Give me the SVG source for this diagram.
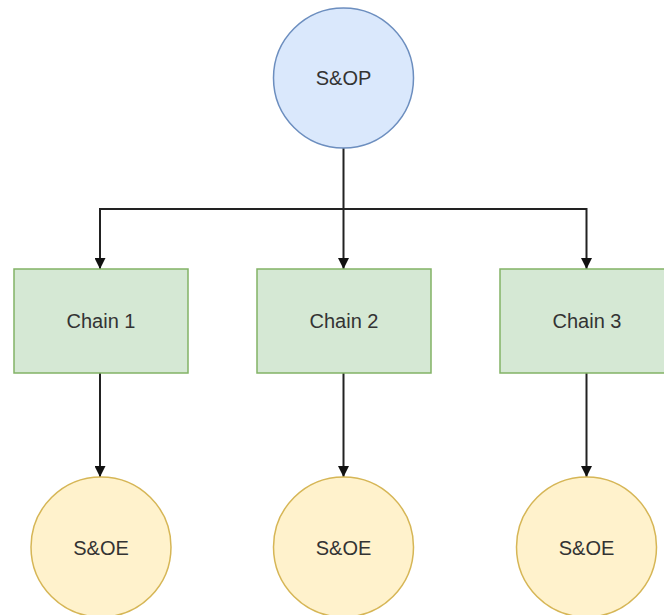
<svg xmlns="http://www.w3.org/2000/svg" width="664" height="615" viewBox="0 0 664 615">
<style>
text{font-family:"Liberation Sans",Arial,sans-serif;font-size:20px;fill:#333;text-anchor:middle}
.blue{fill:#dae8fc;stroke:#6c8ebf;stroke-width:1.5}
.green{fill:#d5e8d4;stroke:#82b366;stroke-width:1.5}
.yellow{fill:#fff2cc;stroke:#d6b656;stroke-width:1.5}
.edge{fill:none;stroke:#222;stroke-width:2}
</style>
<defs>
<marker id="arr" viewBox="0 0 10 10" refX="10" refY="5" markerWidth="5.5" markerHeight="5.5" orient="auto" markerUnits="strokeWidth">
<path d="M0,0 L10,5 L0,10 z" fill="#111"/>
</marker>
</defs>
<rect width="664" height="615" fill="#fff"/>
<g id="connectors">
<path class="edge" d="M343.5,148 V209 H100 V269" marker-end="url(#arr)"/>
<path class="edge" d="M343.5,209 V269" marker-end="url(#arr)"/>
<path class="edge" d="M343.5,209 H586.5 V269" marker-end="url(#arr)"/>
<path class="edge" d="M100,373 V477" marker-end="url(#arr)"/>
<path class="edge" d="M343.5,373 V477" marker-end="url(#arr)"/>
<path class="edge" d="M586.5,373 V477" marker-end="url(#arr)"/>
</g>
<g id="sop"><circle class="blue" cx="343.5" cy="78" r="70"/><text x="343.5" y="85">S&amp;OP</text></g>
<g id="chain1"><rect class="green" x="14" y="269" width="174" height="104"/><text x="101" y="328">Chain 1</text></g>
<g id="chain2"><rect class="green" x="257" y="269" width="174" height="104"/><text x="344" y="328">Chain 2</text></g>
<g id="chain3"><rect class="green" x="500" y="269" width="174" height="104"/><text x="587" y="328">Chain 3</text></g>
<g id="soe1"><circle class="yellow" cx="101" cy="547" r="70"/><text x="101" y="555">S&amp;OE</text></g>
<g id="soe2"><circle class="yellow" cx="343.5" cy="547" r="70"/><text x="343.5" y="555">S&amp;OE</text></g>
<g id="soe3"><circle class="yellow" cx="586.5" cy="547" r="70"/><text x="586.5" y="555">S&amp;OE</text></g>
</svg>
